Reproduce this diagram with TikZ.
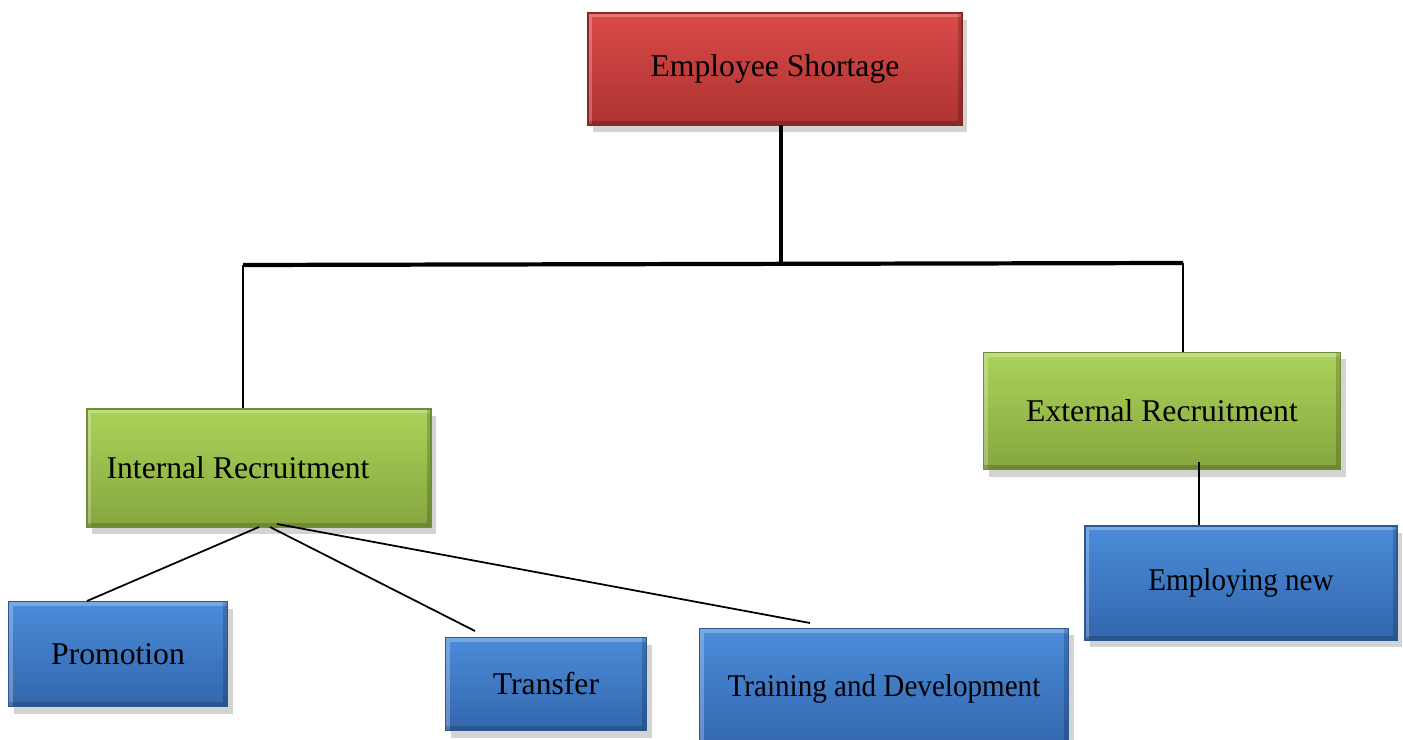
\documentclass[tikz,border=0pt]{standalone}
\usepackage{fontspec}
\setmainfont{Liberation Serif}
\usetikzlibrary{shadows}

\definecolor{redtop}{HTML}{DA4B49}
\definecolor{redbot}{HTML}{AC3230}
\definecolor{greentop}{HTML}{ABD35A}
\definecolor{greenbot}{HTML}{86A63E}
\definecolor{bluetop}{HTML}{4B8CD9}
\definecolor{bluebot}{HTML}{3366AD}

\begin{document}
\begin{tikzpicture}[x=0.01cm,y=-0.01cm]
        \tikzstyle{bevel box}=[rectangle,inner sep=0pt,font=\fontsize{9}{11}\selectfont,
            drop shadow={opacity=0.35,shadow xshift=1.5pt,shadow yshift=-2pt},
            path picture={
                \draw[white,opacity=0.25,line width=2.5pt]
                    (path picture bounding box.south west) -- (path picture bounding box.north west)
                    -- (path picture bounding box.north east);
                \draw[black,opacity=0.18,line width=2.5pt]
                    (path picture bounding box.north east) -- (path picture bounding box.south east)
                    -- (path picture bounding box.south west);
            }]
        \tikzstyle{red box}=[bevel box,top color=redtop,bottom color=redbot,draw=redbot!80!black]
        \tikzstyle{green box}=[bevel box,top color=greentop,bottom color=greenbot,draw=greenbot!85!black]
        \tikzstyle{blue box}=[bevel box,top color=bluetop,bottom color=bluebot,draw=bluebot!85!black]
        \tikzstyle{thick line}=[line width=1.2pt]
        \tikzstyle{thin line}=[line width=0.5pt]

        \useasboundingbox (0,0) rectangle (1403,740);

        % Boxes
        \node(short)[red box,minimum width=3.74cm,minimum height=1.12cm] at (775,69){Employee Shortage};
        \node(intr)[green box,minimum width=3.44cm,minimum height=1.18cm] at (259,468){Internal Recruitment\hspace*{0.42cm}};
        \node(extr)[green box,minimum width=3.57cm,minimum height=1.17cm] at (1162,411){External Recruitment};
        \node(promo)[blue box,minimum width=2.19cm,minimum height=1.05cm] at (118,654){Promotion};
        \node(trans)[blue box,minimum width=2.01cm,minimum height=0.93cm] at (546,684){Transfer};
        \node(train)[blue box,minimum width=3.69cm,minimum height=1.21cm] at (884,689){\scalebox{0.92}[1]{Training and Development}};
        \node(empl)[blue box,minimum width=3.12cm,minimum height=1.14cm] at (1241,583){\scalebox{0.92}[1]{Employing new}};

        % Joints and free ends
        \coordinate(drop) at (781,125);
        \coordinate(barL) at (243,265);
        \coordinate(barR) at (1183,263);
        \coordinate(extin) at (1199,462);
        \coordinate(ir1) at (259,527);
        \coordinate(ir2) at (270,527);
        \coordinate(ir3) at (277,524);
        \coordinate(promoend) at (87,601);
        \coordinate(transend) at (475,631);
        \coordinate(trainend) at (810,623);

        % Main branches
        \draw[thick line] (drop) -- (drop |- barL);
        \draw[thick line] (barL) -- (barR);
        \draw[thin line] (barL) -- (barL |- intr.north);
        \draw[thin line] (barR) -- (barR |- extr.north);
        \draw[thin line] (extin) -- (extin |- empl.north);

        % Internal recruitment branches
        \draw[thin line] (ir1) -- (promoend);
        \draw[thin line] (ir2) -- (transend);
        \draw[thin line] (ir3) -- (trainend);
\end{tikzpicture}
\end{document}
